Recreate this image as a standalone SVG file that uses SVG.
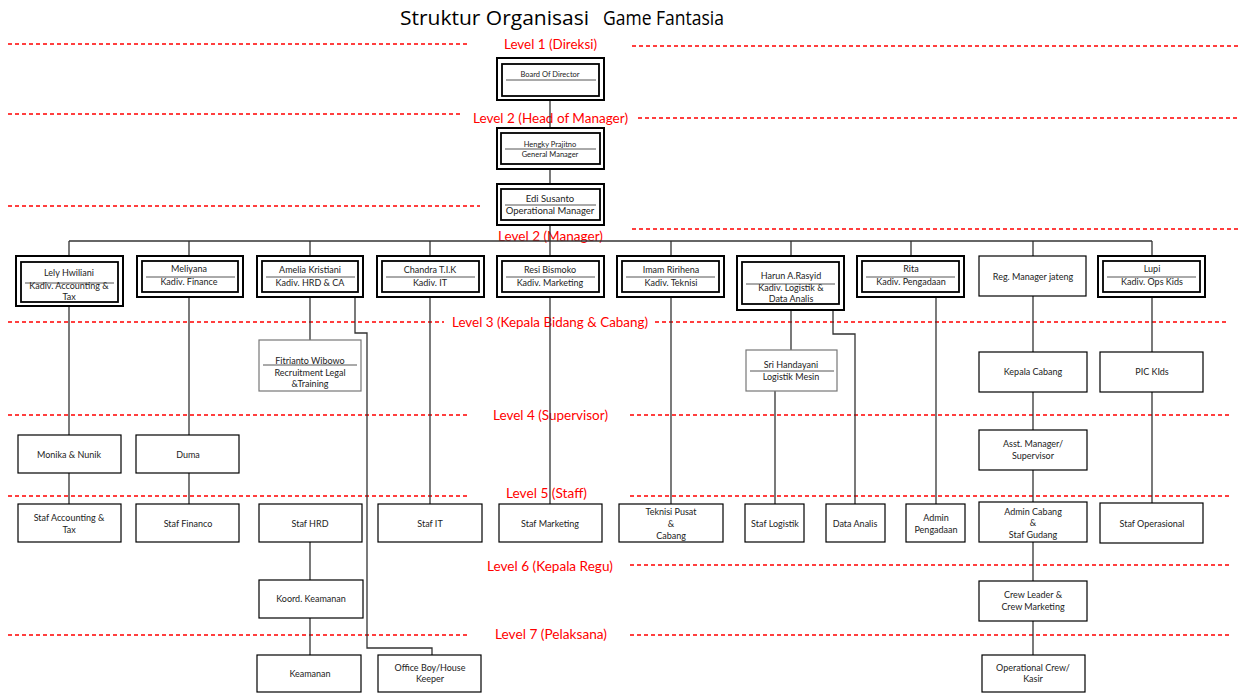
<svg xmlns="http://www.w3.org/2000/svg" width="1239" height="693" viewBox="0 0 1239 693">
<style>
.bg{fill:#fff}
.dbo{fill:#fff;stroke:#000;stroke-width:2}
.dbi{fill:none;stroke:#000;stroke-width:1.8}
.dv{stroke:#555;stroke-width:1}
.box{fill:#fff;stroke:#000;stroke-width:1.2}
.gbox{fill:#fff;stroke:#777;stroke-width:1.2}
.t{font-family:Lato,"Open Sans",sans-serif;font-size:9px;fill:#222;text-anchor:middle}
.ts{font-size:7.5px}
.tm{font-size:9.5px}
.lv{font-family:Lato,"Open Sans",sans-serif;font-size:13.5px;fill:#f00}
.dash{stroke:#f00;stroke-width:1.3;stroke-dasharray:4 3;fill:none}
.conn{stroke:#333;stroke-width:1.3;fill:none}
.title{font-family:"Open Sans","DejaVu Sans",sans-serif;font-size:20px;fill:#000}
</style>
<rect class="bg" x="0" y="0" width="1239" height="693"/>
<g id="title">
<text class="title" x="400" y="25" textLength="189" lengthAdjust="spacingAndGlyphs">Struktur Organisasi</text>
<text class="title" x="603" y="25" textLength="121" lengthAdjust="spacingAndGlyphs">Game Fantasia</text>
</g>
<g id="levels">
<path class="dash" d="M8 44H470M632 46H1239"/>
<text class="lv" x="504" y="49" textLength="93" lengthAdjust="spacingAndGlyphs">Level 1 (Direksi)</text>
<path class="dash" d="M8 114H462M638 118H1239"/>
<text class="lv" x="473" y="123" textLength="155" lengthAdjust="spacingAndGlyphs">Level 2 (Head of Manager)</text>
<path class="dash" d="M8 206H480M632 229H1239"/>
<text class="lv" x="498" y="241" textLength="105" lengthAdjust="spacingAndGlyphs">Level 2 (Manager)</text>
<path class="dash" d="M8 322H444M655 322H1229"/>
<text class="lv" x="452" y="327" textLength="196" lengthAdjust="spacingAndGlyphs">Level 3 (Kepala Bidang &amp; Cabang)</text>
<path class="dash" d="M8 415H469M630 415H1229"/>
<text class="lv" x="493" y="420" textLength="115" lengthAdjust="spacingAndGlyphs">Level 4 (Supervisor)</text>
<path class="dash" d="M8 496H468M630 496H1229"/>
<text class="lv" x="506" y="498" textLength="81" lengthAdjust="spacingAndGlyphs">Level 5 (Staff)</text>
<path class="dash" d="M630 565H1229"/>
<text class="lv" x="487" y="571" textLength="126" lengthAdjust="spacingAndGlyphs">Level 6 (Kepala Regu)</text>
<path class="dash" d="M8 635H468M630 635H1229"/>
<text class="lv" x="495" y="639" textLength="112" lengthAdjust="spacingAndGlyphs">Level 7 (Pelaksana)</text>
</g>
<g id="connectors">
<path class="conn" d="M550 100V128M550 169V184M550 225V256M550 297V504"/>
<path class="conn" d="M69 241H1152"/>
<path class="conn" d="M69 241V256M189 241V256M310 241V256M430 241V256M671 241V256M791 241V256M911 241V256M1033 241V256M1152 241V256"/>
<path class="conn" d="M69 306V435M69 473V504"/>
<path class="conn" d="M189 297V435M189 473V504"/>
<path class="conn" d="M310 297V340M310 542V580M310 618V655"/>
<path class="conn" d="M355 297V333H367V648H432V655"/>
<path class="conn" d="M430 297V504"/>
<path class="conn" d="M671 297V504"/>
<path class="conn" d="M791 310V350M775 391V504"/>
<path class="conn" d="M833 310V334H855V504"/>
<path class="conn" d="M936 297V504"/>
<path class="conn" d="M1033 296V352M1033 392V430M1033 470V502M1033 542V581M1033 621V655"/>
<path class="conn" d="M1152 297V352M1152 392V503"/>
</g>
<g id="board">
<rect class="dbo" x="497" y="58" width="107" height="42"/>
<rect class="dbi" x="502" y="64" width="97" height="32"/>
<line class="dv" x1="506" y1="80" x2="596" y2="80"/>
<text class="t ts" x="550" y="77">Board Of Director</text>
</g>
<g id="hengky">
<rect class="dbo" x="497" y="128" width="107" height="41"/>
<rect class="dbi" x="501" y="133" width="99" height="31"/>
<line class="dv" x1="505" y1="149" x2="596" y2="149"/>
<text class="t ts" x="550" y="147">Hengky Prajitno</text>
<text class="t ts" x="550" y="157">General Manager</text>
</g>
<g id="edi">
<rect class="dbo" x="497" y="184" width="107" height="41"/>
<rect class="dbi" x="501" y="189" width="99" height="31"/>
<line class="dv" x1="505" y1="205" x2="596" y2="205"/>
<text class="t tm" x="550" y="202">Edi Susanto</text>
<text class="t tm" x="550" y="214">Operational Manager</text>
</g>
<g id="lely">
<rect class="dbo" x="16" y="256" width="107" height="50"/>
<rect class="dbi" x="21" y="262" width="97" height="40"/>
<line class="dv" x1="25" y1="283" x2="114" y2="283"/>
<text class="t" x="69" y="276">Lely Hwiliani</text>
<text class="t" x="69" y="289">Kadiv. Accounting &amp;</text>
<text class="t" x="69" y="300">Tax</text>
</g>
<g id="meliyana">
<rect class="dbo" x="137" y="256" width="106" height="41"/>
<rect class="dbi" x="142" y="261" width="96" height="31"/>
<line class="dv" x1="146" y1="277" x2="235" y2="277"/>
<text class="t" x="189" y="272">Meliyana</text>
<text class="t" x="189" y="285">Kadiv. Finance</text>
</g>
<g id="amelia">
<rect class="dbo" x="257" y="256" width="106" height="41"/>
<rect class="dbi" x="262" y="261" width="96" height="31"/>
<line class="dv" x1="266" y1="277" x2="355" y2="277"/>
<text class="t" x="310" y="273">Amelia Kristiani</text>
<text class="t" x="310" y="286">Kadiv. HRD &amp; CA</text>
</g>
<g id="chandra">
<rect class="dbo" x="377" y="256" width="107" height="41"/>
<rect class="dbi" x="382" y="261" width="97" height="31"/>
<line class="dv" x1="386" y1="277" x2="475" y2="277"/>
<text class="t" x="430" y="273">Chandra T.I.K</text>
<text class="t" x="430" y="286">Kadiv. IT</text>
</g>
<g id="resi">
<rect class="dbo" x="497" y="256" width="107" height="41"/>
<rect class="dbi" x="502" y="261" width="97" height="31"/>
<line class="dv" x1="506" y1="277" x2="595" y2="277"/>
<text class="t" x="550" y="273">Resi Bismoko</text>
<text class="t" x="550" y="286">Kadiv. Marketing</text>
</g>
<g id="imam">
<rect class="dbo" x="617" y="256" width="107" height="41"/>
<rect class="dbi" x="622" y="261" width="97" height="31"/>
<line class="dv" x1="626" y1="277" x2="715" y2="277"/>
<text class="t" x="671" y="273">Imam Ririhena</text>
<text class="t" x="671" y="286">Kadiv. Teknisi</text>
</g>
<g id="harun">
<rect class="dbo" x="737" y="256" width="107" height="54"/>
<rect class="dbi" x="742" y="262" width="97" height="42"/>
<line class="dv" x1="746" y1="284" x2="835" y2="284"/>
<text class="t" x="791" y="279">Harun A.Rasyid</text>
<text class="t" x="791" y="291">Kadiv. Logistik &amp;</text>
<text class="t" x="791" y="302">Data Analis</text>
</g>
<g id="rita">
<rect class="dbo" x="857" y="256" width="107" height="41"/>
<rect class="dbi" x="862" y="261" width="97" height="31"/>
<line class="dv" x1="866" y1="277" x2="955" y2="277"/>
<text class="t" x="911" y="272">Rita</text>
<text class="t" x="911" y="285">Kadiv. Pengadaan</text>
</g>
<g id="regmanager">
<rect class="box" x="979" y="256" width="107" height="40"/>
<text class="t" x="1033" y="280">Reg. Manager jateng</text>
</g>
<g id="lupi">
<rect class="dbo" x="1098" y="256" width="107" height="41"/>
<rect class="dbi" x="1103" y="261" width="97" height="31"/>
<line class="dv" x1="1107" y1="277" x2="1196" y2="277"/>
<text class="t" x="1152" y="272">Lupi</text>
<text class="t" x="1152" y="285">Kadiv. Ops Kids</text>
</g>
<g id="fitrianto">
<rect class="gbox" x="259" y="340" width="102" height="51"/>
<line class="dv" x1="263" y1="365" x2="357" y2="365"/>
<text class="t" x="310" y="364">Fitrianto Wibowo</text>
<text class="t" x="310" y="376">Recruitment Legal</text>
<text class="t" x="310" y="387">&amp;Training</text>
</g>
<g id="sri">
<rect class="gbox" x="746" y="350" width="91" height="41"/>
<line class="dv" x1="750" y1="371" x2="834" y2="371"/>
<text class="t" x="791" y="368">Sri Handayani</text>
<text class="t" x="791" y="380">Logistik Mesin</text>
</g>
<g id="kepalacabang">
<rect class="box" x="979" y="352" width="108" height="40"/>
<text class="t" x="1033" y="375">Kepala Cabang</text>
</g>
<g id="pickids">
<rect class="box" x="1100" y="352" width="103" height="40"/>
<text class="t" x="1152" y="375">PIC KIds</text>
</g>
<g id="monika">
<rect class="box" x="18" y="435" width="103" height="38"/>
<text class="t" x="69" y="458">Monika &amp; Nunik</text>
</g>
<g id="duma">
<rect class="box" x="136" y="435" width="103" height="38"/>
<text class="t" x="188" y="458">Duma</text>
</g>
<g id="asstmanager">
<rect class="box" x="979" y="430" width="108" height="40"/>
<text class="t" x="1033" y="447">Asst. Manager/</text>
<text class="t" x="1033" y="459">Supervisor</text>
</g>
<g id="stafaccounting">
<rect class="box" x="18" y="504" width="103" height="38"/>
<text class="t" x="69" y="521">Staf Accounting &amp;</text>
<text class="t" x="69" y="533">Tax</text>
</g>
<g id="staffinanco">
<rect class="box" x="136" y="504" width="103" height="38"/>
<text class="t" x="188" y="527">Staf Financo</text>
</g>
<g id="stafhrd">
<rect class="box" x="259" y="504" width="103" height="38"/>
<text class="t" x="310" y="527">Staf HRD</text>
</g>
<g id="stafit">
<rect class="box" x="378" y="504" width="104" height="38"/>
<text class="t" x="430" y="527">Staf IT</text>
</g>
<g id="stafmarketing">
<rect class="box" x="499" y="504" width="103" height="38"/>
<text class="t" x="550" y="527">Staf Marketing</text>
</g>
<g id="teknisi">
<rect class="box" x="619" y="504" width="104" height="38"/>
<text class="t" x="671" y="515">Teknisi Pusat</text>
<text class="t" x="671" y="527">&amp;</text>
<text class="t" x="671" y="539">Cabang</text>
</g>
<g id="staflogistik">
<rect class="box" x="745" y="504" width="59" height="38"/>
<text class="t" x="775" y="527">Staf Logistik</text>
</g>
<g id="dataanalis">
<rect class="box" x="826" y="504" width="59" height="38"/>
<text class="t" x="855" y="527">Data Analis</text>
</g>
<g id="adminpengadaan">
<rect class="box" x="906" y="504" width="59" height="38"/>
<text class="t" x="936" y="521">Admin</text>
<text class="t" x="936" y="533">Pengadaan</text>
</g>
<g id="admincabang">
<rect class="box" x="979" y="502" width="108" height="40"/>
<text class="t" x="1033" y="515">Admin Cabang</text>
<text class="t" x="1033" y="526">&amp;</text>
<text class="t" x="1033" y="538">Staf Gudang</text>
</g>
<g id="stafoperasional">
<rect class="box" x="1100" y="503" width="103" height="40"/>
<text class="t" x="1152" y="527">Staf Operasional</text>
</g>
<g id="koordkeamanan">
<rect class="box" x="259" y="580" width="104" height="38"/>
<text class="t" x="311" y="602">Koord. Keamanan</text>
</g>
<g id="crewleader">
<rect class="box" x="979" y="581" width="108" height="40"/>
<text class="t" x="1033" y="598">Crew Leader &amp;</text>
<text class="t" x="1033" y="610">Crew Marketing</text>
</g>
<g id="keamanan">
<rect class="box" x="257" y="655" width="104" height="37"/>
<text class="t" x="310" y="677">Keamanan</text>
</g>
<g id="officeboy">
<rect class="box" x="378" y="655" width="103" height="37"/>
<text class="t" x="430" y="671">Office Boy/House</text>
<text class="t" x="430" y="682">Keeper</text>
</g>
<g id="operationalcrew">
<rect class="box" x="982" y="655" width="103" height="37"/>
<text class="t" x="1033" y="671">Operational Crew/</text>
<text class="t" x="1033" y="682">Kasir</text>
</g>
</svg>
